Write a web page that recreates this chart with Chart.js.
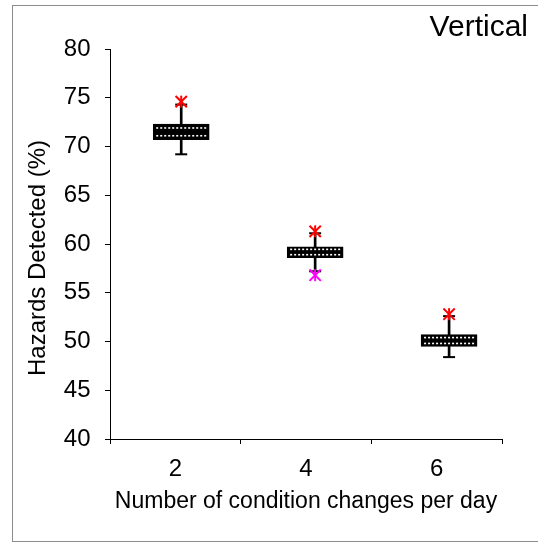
<!DOCTYPE html>
<html>
<head>
<meta charset="utf-8">
<script src="https://cdn.jsdelivr.net/npm/chart.js@4.4.1/dist/chart.umd.min.js"></script>
<style>
  html, body { margin: 0; padding: 0; background: #fff; }
</style>
</head>
<body>
<canvas id="chart" width="538" height="543"></canvas>
<script>
// values
const categories = ['2', '4', '6'];
const boxPos = [1.09, 3.14, 5.19];          // where each box sits on the 0..6 axis
const whiskerLow = [69.2, 57.2, 48.4];
const q1 = [70.7, 58.6, 49.5];
const median = [71.5, 59.2, 50.1];
const q3 = [72.3, 59.7, 50.7];
const whiskerHigh = [74.3, 61.1, 52.6];
const maxOutlier = [74.6, 61.3, 52.8];
const minOutlier = [null, 56.8, null];
const yTicks = { min: 40, max: 80, step: 5 };
const xTitle = 'Number of condition changes per day';
const yTitle = 'Hazards Detected (%)';
const cornerLabel = 'Vertical';

const FONT = '"Liberation Sans", Arial, sans-serif';

// helpers to turn the arrays into chart data
function ranges(lo, hi) {
    return boxPos.map((x, i) => ({ x: x, y: [lo[i], hi[i]] }));
}
function points(vals) {
    return boxPos.map((x, i) => ({ x: x, y: vals[i] })).filter(p => p.y !== null);
}

const decor = {
    id: 'decor',
    beforeDraw(chart) {
        const ctx = chart.ctx;
        ctx.save();
        ctx.fillStyle = '#fff';
        ctx.fillRect(0, 0, chart.width, chart.height);
        ctx.strokeStyle = '#8c8c8c';
        ctx.lineWidth = 1;
        ctx.strokeRect(12.5, 5.5, chart.width, 536);
        ctx.fillStyle = '#000';
        ctx.font = '30px ' + FONT;
        ctx.textAlign = 'right';
        ctx.textBaseline = 'alphabetic';
        ctx.fillText(cornerLabel, 528, 36);
        // y axis title, sits a bit below the middle of the axis in the original
        ctx.font = '24px ' + FONT;
        ctx.textAlign = 'center';
        ctx.textBaseline = 'middle';
        ctx.translate(38.5, 258);
        ctx.rotate(-Math.PI / 2);
        ctx.fillText(yTitle, 0, 0);
        ctx.restore();
    },
    // dotted texture on the boxes, one row each side of the median
    afterDatasetDraw(chart, args) {
        if (args.meta.controller.getDataset().id !== 'box') return;
        const ctx = chart.ctx;
        const yScale = chart.scales.y;
        ctx.save();
        ctx.fillStyle = '#fff';
        args.meta.data.forEach((bar, i) => {
            const { x, width } = bar.getProps(['x', 'width'], true);
            const left = x - width / 2, right = x + width / 2;
            const top = yScale.getPixelForValue(q3[i]);
            const mid = yScale.getPixelForValue(median[i]);
            const bottom = yScale.getPixelForValue(q1[i]);
            [(top + mid) / 2, (mid + bottom) / 2].forEach(ry => {
                for (let px = left + 3; px < right - 3; px += 4) {
                    ctx.fillRect(px, ry - 0.8, 2, 1.6);
                }
            });
        });
        ctx.restore();
    }
};

const config = {
    type: 'bar',
    data: {
        datasets: [
            {
                id: 'whisker',
                type: 'bar',
                data: ranges(whiskerLow, whiskerHigh),
                backgroundColor: '#000',
                barThickness: 2,
                grouped: false,
                order: 4
            },
            {
                id: 'box',
                type: 'bar',
                data: ranges(q1, q3),
                backgroundColor: '#000',
                borderColor: '#000',
                borderWidth: 1,
                borderSkipped: false,
                barThickness: 56,
                grouped: false,
                order: 3
            },
            {
                type: 'scatter',
                data: points(whiskerLow).concat(points(whiskerHigh)),
                pointStyle: 'line',
                radius: 6,
                borderColor: '#000',
                borderWidth: 2,
                order: 2
            },
            {
                type: 'scatter',
                data: points(maxOutlier),
                pointStyle: 'crossRot',
                radius: 8,
                borderColor: '#ff0000',
                borderWidth: 2,
                order: 1
            },
            {
                type: 'scatter',
                data: points(maxOutlier),
                pointStyle: 'line',
                rotation: 90,
                radius: 6,
                borderColor: '#ff0000',
                borderWidth: 2,
                order: 1
            },
            {
                type: 'scatter',
                data: points(minOutlier),
                pointStyle: 'crossRot',
                radius: 8,
                borderColor: '#ff00ff',
                borderWidth: 2,
                order: 0
            },
            {
                type: 'scatter',
                data: points(minOutlier),
                pointStyle: 'line',
                rotation: 90,
                radius: 6,
                borderColor: '#ff00ff',
                borderWidth: 2,
                order: 0
            }
        ]
    },
    options: {
        responsive: false,
        devicePixelRatio: 1,
        animation: false,
        events: [],
        layout: { padding: { top: 49, right: 36, bottom: 0, left: 0 } },
        plugins: {
            legend: { display: false },
            tooltip: { enabled: false }
        },
        scales: {
            x: {
                type: 'linear',
                min: 0,
                max: 6,
                offset: false,
                afterFit: (scale) => { scale.height = 104; },
                grid: {
                    offset: false,
                    drawOnChartArea: false,
                    drawTicks: true,
                    tickLength: 5,
                    color: (c) => (c.tick && c.tick.value % 2 === 0) ? '#000' : 'rgba(0,0,0,0)'
                },
                border: { color: '#000', width: 1 },
                ticks: {
                    stepSize: 1,
                    autoSkip: false,
                    maxRotation: 0,
                    padding: 11,
                    color: '#000',
                    font: { family: FONT, size: 24 },
                    callback: (v) => v % 2 === 1 ? categories[(v - 1) / 2] : ''
                },
                title: {
                    display: true,
                    text: xTitle,
                    color: '#000',
                    font: { family: FONT, size: 23 },
                    padding: { top: 0, bottom: 28 }
                }
            },
            y: {
                type: 'linear',
                min: yTicks.min,
                max: yTicks.max,
                beginAtZero: false,
                afterFit: (scale) => { scale.width = 110; },
                grid: {
                    drawOnChartArea: false,
                    drawTicks: true,
                    tickLength: 5,
                    color: '#000'
                },
                border: { color: '#000', width: 1 },
                ticks: {
                    stepSize: yTicks.step,
                    padding: 14.5,
                    color: '#000',
                    font: { family: FONT, size: 24 }
                }
            }
        }
    },
    plugins: [decor]
};

new Chart(document.getElementById('chart'), config);
</script>
</body>
</html>
